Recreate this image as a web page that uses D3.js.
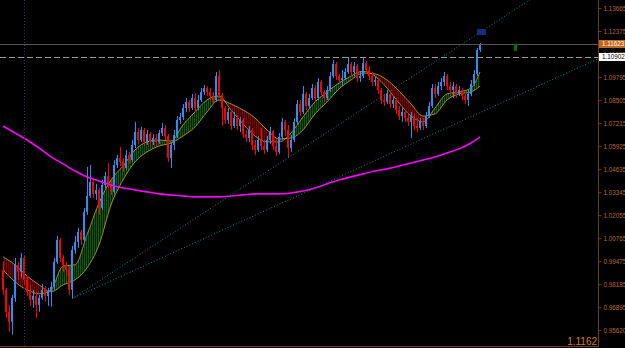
<!DOCTYPE html>
<html>
<head>
<meta charset="utf-8">
<script src="https://cdnjs.cloudflare.com/ajax/libs/d3/7.8.5/d3.min.js"></script>
<style>
  html, body { margin: 0; padding: 0; background: #000; overflow: hidden; }
  text { font-family: "Liberation Sans", Arial, sans-serif; }
</style>
</head>
<body>
<div id="chart"></div>
<script>
// price data, one candle per bar (open = previous close)
const firstOpen = 0.9899;
const closes = [
  0.9787, 0.9664, 0.9608, 0.9742, 0.9927, 0.9888, 0.9966, 0.9843, 0.9776, 0.9731,
  0.9753, 0.9703, 0.9742, 0.9787, 0.9753, 0.9776, 0.9804, 0.9944, 1.0067, 0.9966,
  0.9927, 0.9899, 0.9787, 1.0011, 1.0056, 1.0112, 1.0067, 1.0224, 1.0313, 1.0392,
  1.0325, 1.0347, 1.0246, 1.0375, 1.0425, 1.0381, 1.0336, 1.0487, 1.0526, 1.0504,
  1.0470, 1.0543, 1.0515, 1.0599, 1.0672, 1.0627, 1.0683, 1.0616, 1.0660, 1.0616,
  1.0638, 1.0616, 1.0666, 1.0694, 1.0649, 1.0526, 1.0599, 1.0655, 1.0739, 1.0756,
  1.0806, 1.0840, 1.0806, 1.0862, 1.0806, 1.0851, 1.0896, 1.0918, 1.0896, 1.0873,
  1.0851, 1.0985, 1.0879, 1.0806, 1.0739, 1.0784, 1.0705, 1.0750, 1.0705, 1.0739,
  1.0660, 1.0638, 1.0683, 1.0599, 1.0571, 1.0627, 1.0593, 1.0571, 1.0627, 1.0677,
  1.0593, 1.0560, 1.0644, 1.0728, 1.0683, 1.0582, 1.0627, 1.0728, 1.0829, 1.0784,
  1.0885, 1.0817, 1.0862, 1.0918, 1.0862, 1.0952, 1.0896, 1.0862, 1.0907, 1.0985,
  1.1053, 1.0985, 1.0963, 1.0974, 1.1008, 1.1053, 1.1008, 1.1041, 1.0974, 1.0985,
  1.1058, 1.1019, 1.0985, 1.0952, 1.0963, 1.0907, 1.0851, 1.0840, 1.0885, 1.0829,
  1.0851, 1.0795, 1.0761, 1.0784, 1.0750, 1.0728, 1.0761, 1.0705, 1.0694, 1.0733,
  1.0705, 1.0761, 1.0817, 1.0918, 1.0885, 1.0929, 1.0952, 1.0985, 1.0929, 1.0907,
  1.0929, 1.0885, 1.0907, 1.0873, 1.0851, 1.0885, 1.0941, 1.0997, 1.1131, 1.1162
];
const highs = [
  0.9944, 0.9798, 0.9703, 0.9759, 0.9966, 0.9944, 0.9994, 0.9983, 0.9865, 0.9815,
  0.9787, 0.9776, 0.9759, 0.9821, 0.9809, 0.9798, 0.9832, 0.9966, 1.0089, 1.0078,
  0.9983, 0.9944, 0.9921, 1.0033, 1.0089, 1.0134, 1.0123, 1.0246, 1.0476, 1.0487,
  1.0403, 1.0381, 1.0358, 1.0403, 1.0448, 1.0498, 1.0403, 1.0515, 1.0543, 1.0588,
  1.0526, 1.0571, 1.0560, 1.0627, 1.0728, 1.0694, 1.0700, 1.0694, 1.0683, 1.0672,
  1.0660, 1.0660, 1.0683, 1.0722, 1.0711, 1.0660, 1.0616, 1.0683, 1.0761, 1.0778,
  1.0829, 1.0862, 1.0851, 1.0885, 1.0890, 1.0879, 1.0918, 1.0935, 1.0929, 1.0918,
  1.0896, 1.1008, 1.1019, 1.0890, 1.0817, 1.0806, 1.0795, 1.0784, 1.0767, 1.0756,
  1.0750, 1.0683, 1.0705, 1.0694, 1.0627, 1.0649, 1.0694, 1.0627, 1.0649, 1.0700,
  1.0683, 1.0627, 1.0666, 1.0750, 1.0739, 1.0711, 1.0655, 1.0750, 1.0851, 1.0851,
  1.0929, 1.0896, 1.0885, 1.0941, 1.0935, 1.0974, 1.0963, 1.0907, 1.0929, 1.1008,
  1.1075, 1.1064, 1.0997, 1.1019, 1.1030, 1.1092, 1.1064, 1.1064, 1.1053, 1.1008,
  1.1092, 1.1069, 1.1041, 1.1008, 1.0985, 1.0974, 1.0918, 1.0885, 1.0907, 1.0896,
  1.0873, 1.0862, 1.0817, 1.0806, 1.0795, 1.0773, 1.0784, 1.0773, 1.0750, 1.0750,
  1.0750, 1.0784, 1.0840, 1.0941, 1.0941, 1.0952, 1.0974, 1.1008, 1.0997, 1.0952,
  1.0952, 1.0941, 1.0929, 1.0918, 1.0885, 1.0907, 1.0963, 1.1019, 1.1142, 1.1170
];
const lows = [
  0.9759, 0.9630, 0.9552, 0.9535, 0.9720, 0.9843, 0.9854, 0.9815, 0.9753, 0.9697,
  0.9686, 0.9630, 0.9664, 0.9731, 0.9720, 0.9697, 0.9692, 0.9787, 0.9933, 0.9944,
  0.9888, 0.9865, 0.9759, 0.9737, 0.9989, 1.0022, 1.0039, 1.0050, 1.0207, 1.0302,
  1.0302, 1.0291, 1.0207, 1.0235, 1.0358, 1.0358, 1.0319, 1.0325, 1.0470, 1.0481,
  1.0448, 1.0459, 1.0493, 1.0504, 1.0582, 1.0605, 1.0616, 1.0593, 1.0599, 1.0593,
  1.0599, 1.0593, 1.0605, 1.0649, 1.0627, 1.0504, 1.0470, 1.0571, 1.0638, 1.0717,
  1.0739, 1.0784, 1.0784, 1.0795, 1.0784, 1.0795, 1.0840, 1.0879, 1.0873, 1.0851,
  1.0829, 1.0840, 1.0862, 1.0705, 1.0717, 1.0717, 1.0683, 1.0694, 1.0683, 1.0672,
  1.0638, 1.0616, 1.0616, 1.0571, 1.0543, 1.0560, 1.0571, 1.0549, 1.0560, 1.0605,
  1.0571, 1.0537, 1.0549, 1.0627, 1.0649, 1.0526, 1.0560, 1.0616, 1.0717, 1.0761,
  1.0773, 1.0795, 1.0806, 1.0851, 1.0840, 1.0851, 1.0879, 1.0840, 1.0851, 1.0896,
  1.0974, 1.0963, 1.0941, 1.0929, 1.0963, 1.0997, 1.0985, 1.0985, 1.0952, 1.0952,
  1.0974, 1.0997, 1.0963, 1.0929, 1.0929, 1.0885, 1.0829, 1.0817, 1.0829, 1.0806,
  1.0806, 1.0773, 1.0739, 1.0728, 1.0728, 1.0705, 1.0638, 1.0683, 1.0672, 1.0683,
  1.0683, 1.0694, 1.0750, 1.0806, 1.0862, 1.0873, 1.0907, 1.0929, 1.0907, 1.0873,
  1.0862, 1.0862, 1.0873, 1.0851, 1.0829, 1.0817, 1.0873, 1.0929, 1.0985, 1.1120
];

// indicator samples (bar index, fast MA, slow MA, long MA)
const maIndex = [0, 4, 8, 12, 16, 20, 24, 28, 32, 36, 40, 44, 48, 52, 56, 60, 64, 68, 72, 76,
  80, 84, 88, 92, 96, 100, 104, 108, 112, 116, 120, 124, 128, 132, 136, 140, 144, 148, 152, 156, 159];
const fastMA = [0.9899, 0.9832, 0.9787, 0.9765, 0.9787, 0.9921, 0.9927, 1.0095, 1.0274, 1.0403,
  1.0481, 1.0571, 1.0616, 1.0627, 1.0621, 1.0711, 1.0784, 1.0851, 1.0873, 1.0795,
  1.0717, 1.0649, 1.0616, 1.0616, 1.0666, 1.0756, 1.0840, 1.0896, 1.0946, 1.0985,
  1.1013, 1.0985, 1.0918, 1.0834, 1.0761, 1.0728, 1.0806, 1.0885, 1.0896, 1.0918, 1.1008];
const slowMA = [0.9972, 0.9927, 0.9865, 0.9815, 0.9776, 0.9815, 0.9843, 0.9910, 1.0039, 1.0263,
  1.0403, 1.0504, 1.0560, 1.0593, 1.0610, 1.0649, 1.0700, 1.0784, 1.0851, 1.0829,
  1.0795, 1.0750, 1.0683, 1.0633, 1.0638, 1.0683, 1.0773, 1.0840, 1.0913, 1.0963,
  1.1002, 1.0997, 1.0963, 1.0901, 1.0829, 1.0761, 1.0773, 1.0851, 1.0885, 1.0896, 1.0929];
const longMA = [1.0705, 1.0666, 1.0627, 1.0582, 1.0532, 1.0493, 1.0453, 1.0420, 1.0397, 1.0375,
  1.0358, 1.0347, 1.0336, 1.0325, 1.0319, 1.0313, 1.0308, 1.0308, 1.0308, 1.0313,
  1.0319, 1.0325, 1.0325, 1.0325, 1.0330, 1.0341, 1.0358, 1.0381, 1.0403, 1.0420,
  1.0437, 1.0453, 1.0465, 1.0481, 1.0498, 1.0515, 1.0532, 1.0554, 1.0577, 1.0610, 1.0644];

// price scale ticks
const tickValues = [1.13665, 1.12375, 1.11085, 1.09795, 1.08505, 1.07215, 1.05925, 1.04635,
  1.03345, 1.02055, 1.00765, 0.99475, 0.98185, 0.96895, 0.95620];
const tickLabels = ['1.13665', '1.12375', '1.11085', '1.09795', '1.08505', '1.07215', '1.05925', '1.04635',
  '1.03345', '1.02055', '1.00765', '0.99475', '0.98185', '0.96895', '0.95620'];

// chart objects
const bidPrice = 1.11623;
const levelPrice = 1.10902;
const trendA = [[23, 0.9737], [98, 1.0560]];
const trendB = [[23, 0.9737], [150, 1.0711]];
const vLineIndex = 7;
const blueTag = { from: 158, to: 161, top: 1.1249, bottom: 1.1215 };
const greenTag = { from: 170.3, to: 171.3, top: 1.1165, bottom: 1.1126 };

const W = 625, H = 348, axisX = 598;

const x = d3.scaleLinear().domain([0, 159]).range([3, 480]);
const y = d3.scaleLinear().domain([0.95620, 1.13665]).range([330, 8]);

const svg = d3.select('#chart').append('svg')
  .attr('width', W).attr('height', H)
  .style('display', 'block').style('background', '#000');

const defs = svg.append('defs');
defs.append('clipPath').attr('id', 'plot')
  .append('rect').attr('x', 0).attr('y', 0).attr('width', axisX).attr('height', H - 2);

function hatch(id, dark, light) {
  const p = defs.append('pattern').attr('id', id)
    .attr('width', 2).attr('height', 4).attr('patternUnits', 'userSpaceOnUse');
  p.append('rect').attr('width', 2).attr('height', 4).attr('fill', dark);
  p.append('rect').attr('width', 1).attr('height', 4).attr('fill', light);
}
hatch('gHatch', '#001400', '#075a07');
hatch('rHatch', '#1e0000', '#7e0000');

const idx = d3.range(maIndex.length);
const curve = d3.curveMonotoneX;

// clip regions above / below the slow line
defs.append('clipPath').attr('id', 'aboveSlow').append('path')
  .attr('d', d3.area().curve(curve).x(i => x(maIndex[i])).y0(0).y1(i => y(slowMA[i]))(idx));
defs.append('clipPath').attr('id', 'belowSlow').append('path')
  .attr('d', d3.area().curve(curve).x(i => x(maIndex[i])).y0(H).y1(i => y(slowMA[i]))(idx));

const plot = svg.append('g').attr('clip-path', 'url(#plot)');

// ribbon
const ribbon = d3.area().curve(curve)
  .x(i => x(maIndex[i])).y0(i => y(slowMA[i])).y1(i => y(fastMA[i]));
plot.append('path').attr('d', ribbon(idx)).attr('fill', 'url(#gHatch)').attr('clip-path', 'url(#aboveSlow)');
plot.append('path').attr('d', ribbon(idx)).attr('fill', 'url(#rHatch)').attr('clip-path', 'url(#belowSlow)');

[fastMA, slowMA].forEach(s => {
  plot.append('path')
    .attr('d', d3.line().curve(curve).x(i => x(maIndex[i])).y(i => y(s[i]))(idx))
    .attr('fill', 'none').attr('stroke', '#b89a28').attr('stroke-width', 0.9);
});

// candles
const bars = closes.map((c, i) => ({ i, o: i ? closes[i - 1] : firstOpen, h: highs[i], l: lows[i], c }));
const colorOf = d => d.c >= d.o ? '#2d8df0' : '#ff0000';

plot.append('g').selectAll('rect').data(bars).join('rect')
  .attr('x', d => Math.round(x(d.i)))
  .attr('width', 1)
  .attr('y', d => y(d.h))
  .attr('height', d => y(d.l) - y(d.h))
  .attr('fill', colorOf);

plot.append('g').selectAll('rect').data(bars).join('rect')
  .attr('x', d => Math.round(x(d.i)) - 1)
  .attr('width', 2)
  .attr('y', d => y(Math.max(d.o, d.c)))
  .attr('height', d => Math.max(1, Math.abs(y(d.o) - y(d.c))))
  .attr('fill', colorOf);

// long moving average
plot.append('path')
  .attr('d', d3.line().curve(curve).x(i => x(maIndex[i])).y(i => y(longMA[i]))(idx))
  .attr('fill', 'none').attr('stroke', '#ff00ff').attr('stroke-width', 1.6);

// vertical dotted line
plot.append('line')
  .attr('x1', Math.round(x(vLineIndex)) + 0.5).attr('x2', Math.round(x(vLineIndex)) + 0.5)
  .attr('y1', 0).attr('y2', H)
  .attr('stroke', '#22386a').attr('stroke-dasharray', '1,2');

// trend lines, extended to the right edge
const endIndex = x.invert(axisX);
[trendA, trendB].forEach(([[i0, p0], [i1, p1]]) => {
  const pEnd = p0 + (p1 - p0) * (endIndex - i0) / (i1 - i0);
  plot.append('line')
    .attr('x1', x(i0)).attr('y1', y(p0))
    .attr('x2', x(endIndex)).attr('y2', y(pEnd))
    .attr('stroke', '#138a8a').attr('stroke-width', 1).attr('stroke-dasharray', '1,2');
});

// horizontal lines
plot.append('line')
  .attr('x1', 0).attr('x2', axisX)
  .attr('y1', Math.round(y(bidPrice)) + 0.5).attr('y2', Math.round(y(bidPrice)) + 0.5)
  .attr('stroke', '#555');
plot.append('line')
  .attr('x1', 0).attr('x2', axisX)
  .attr('y1', Math.round(y(levelPrice)) + 0.5).attr('y2', Math.round(y(levelPrice)) + 0.5)
  .attr('stroke', '#9a9a9a').attr('stroke-dasharray', '6,3');

// small chart objects
[[blueTag, '#1c2a7c'], [greenTag, '#0b6e0b']].forEach(([t, col]) => {
  plot.append('rect')
    .attr('x', x(t.from)).attr('width', x(t.to) - x(t.from))
    .attr('y', y(t.top)).attr('height', y(t.bottom) - y(t.top))
    .attr('fill', col);
});

// price axis
const axis = svg.append('g')
  .attr('transform', `translate(${axisX + 0.5},0)`)
  .call(d3.axisRight(y).tickValues(tickValues).tickFormat((d, i) => tickLabels[i]).tickSize(3).tickPadding(2));
axis.select('.domain').remove();
axis.selectAll('line').attr('stroke', '#6b3f18');
axis.selectAll('text').attr('fill', '#b8682a').style('font-size', '6.3px')
  .style('font-family', '"Liberation Sans", Arial, sans-serif');

svg.append('line')
  .attr('x1', axisX + 0.5).attr('x2', axisX + 0.5).attr('y1', 0).attr('y2', H - 1)
  .attr('stroke', '#6b3f18');
svg.append('line')
  .attr('x1', 0).attr('x2', axisX).attr('y1', H - 1.5).attr('y2', H - 1.5)
  .attr('stroke', '#6b3f18');

// price tags on axis
function tag(price, text, bg, fg) {
  const yy = Math.round(y(price));
  svg.append('rect').attr('x', axisX + 1).attr('y', yy - 4).attr('width', 26).attr('height', 8).attr('fill', bg);
  svg.append('text').attr('x', axisX + 4).attr('y', yy).attr('dy', '0.35em')
    .attr('fill', fg).style('font-size', '6.3px').text(text);
}
tag(bidPrice, bidPrice.toFixed(5), '#c4661c', '#ffffff');
tag(levelPrice, levelPrice.toFixed(5), '#ffffff', '#000000');

// last price readout
svg.append('text')
  .attr('x', axisX - 1).attr('y', H - 3)
  .attr('text-anchor', 'end')
  .attr('fill', '#d9762a').style('font-size', '10px')
  .text(closes[closes.length - 1].toFixed(4));
</script>
</body>
</html>
